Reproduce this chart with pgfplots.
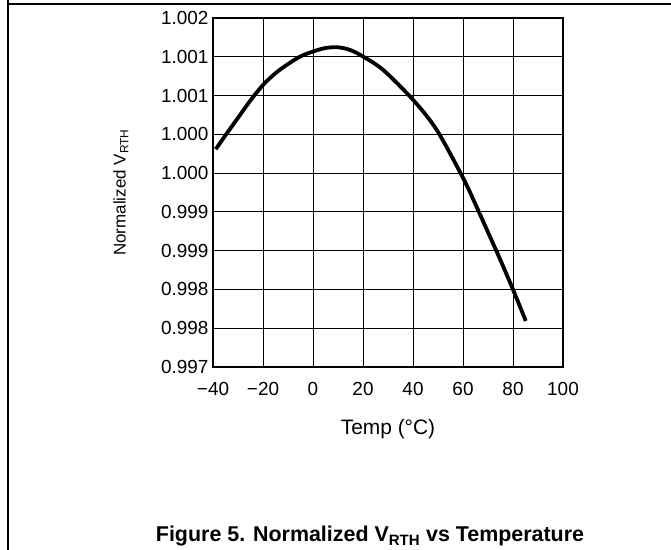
\documentclass[border=0pt]{standalone}
\usepackage{fontspec}
\setmainfont{Liberation Sans}
\usepackage{pgfplots}
\pgfplotsset{compat=1.18}
\begin{document}
\begin{tikzpicture}[x=1bp,y=1bp]
\path[use as bounding box] (0,0) rectangle (671,550);
\draw[line width=1.5bp] (8,0) -- (8,550);
\draw[line width=1.5bp] (8,546) -- (671,546);
\begin{axis}[
  at={(213bp,183bp)}, anchor=south west,
  width=350bp, height=349bp, scale only axis,
  xmin=-40, xmax=100, ymin=0.997, ymax=1.002,
  xtick={-40,-20,0,20,40,60,80,100},
  xticklabels={−40,−20,0,20,40,60,80,100},
  ytick={0.997,0.99755556,0.99811111,0.99866667,0.99922222,0.99977778,1.00033333,1.00088889,1.00144444,1.002},
  yticklabels={0.997,0.998,0.998,0.999,0.999,1.000,1.000,1.001,1.001,1.002},
  grid=major,
  major grid style={line width=1bp, black},
  axis line style={line width=1.8bp},
  tick style={draw=none},
  xticklabel style={font=\fontsize{19}{22}\selectfont, yshift=-12bp},
  yticklabel style={font=\fontsize{19}{22}\selectfont, xshift=-1bp},
  xlabel={Temp (°C)},
  ylabel={Normalized V\textsubscript{RTH}},
  xlabel style={font=\fontsize{21}{24}\selectfont, yshift=-17bp},
  ylabel style={font=\fontsize{17}{20}\selectfont, yshift=26bp},
]
\addplot[black, line width=3.8bp, smooth, tension=0.5] coordinates {
(-38.9,1.00012) (-35,1.00032) (-30,1.00057) (-25,1.00082) (-20,1.00104)
(-15,1.00121) (-10,1.00134) (-5,1.00145) (0,1.00152) (5,1.00157)
(10,1.00158) (15,1.00154) (20.1,1.001446) (28.1,1.001255) (40.1,1.000825)
(49.5,1.000395) (60,0.99971) (65,0.99933) (70,0.99893) (75,0.99853)
(80,0.99811) (85.1,0.99766)
};
\end{axis}
\node[font=\fontsize{21.5}{24}\selectfont\bfseries, anchor=base] at (370,8) {Figure 5. Normalized V\textsubscript{RTH} vs Temperature};
\end{tikzpicture}
\end{document}
